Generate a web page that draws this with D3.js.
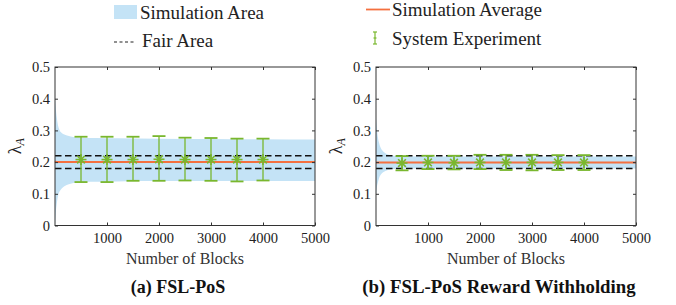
<!DOCTYPE html>
<html><head><meta charset="utf-8">
<script src="https://cdn.jsdelivr.net/npm/d3@7"></script>
<style>body{margin:0;background:#fff}svg{display:block}svg text{font-family:"Liberation Serif","Times New Roman",Tinos,"DejaVu Serif",serif}</style>
</head><body><svg id="c" width="676" height="305"></svg>
<script>
const xTicks = [1000, 2000, 3000, 4000, 5000];
const yTicks = [0, 0.1, 0.2, 0.3, 0.4, 0.5];
const expX = [500, 1000, 1500, 2000, 2500, 3000, 3500, 4000];

// panel (a)
const envX_a = [0, 15, 35, 60, 90, 130, 180, 250, 350, 500, 800, 1200, 2000, 3000, 4000, 5000];
const envHi_a = [0.40, 0.37, 0.34, 0.315, 0.30, 0.292, 0.287, 0.283, 0.279, 0.277, 0.276, 0.275, 0.274, 0.273, 0.272, 0.271];
const envLo_a = [0.0, 0.04, 0.07, 0.095, 0.108, 0.117, 0.124, 0.129, 0.134, 0.137, 0.138, 0.139, 0.140, 0.140, 0.140, 0.140];
const avg_a = [0.203, 0.201, 0.200, 0.200, 0.200, 0.200, 0.200, 0.200, 0.200, 0.200, 0.200, 0.200, 0.200, 0.200, 0.200, 0.200];
const expMean_a = [0.208, 0.208, 0.208, 0.209, 0.208, 0.208, 0.208, 0.208];
const expHi_a = [0.280, 0.280, 0.280, 0.282, 0.277, 0.276, 0.274, 0.274];
const expLo_a = [0.137, 0.137, 0.141, 0.141, 0.142, 0.141, 0.139, 0.142];

// panel (b)
const envX_b = [0, 15, 35, 60, 90, 130, 180, 250, 350, 500, 800, 1200, 2000, 3000, 4000, 5000];
const envHi_b = [0.34, 0.31, 0.28, 0.26, 0.245, 0.235, 0.228, 0.223, 0.220, 0.219, 0.218, 0.218, 0.218, 0.218, 0.218, 0.218];
const envLo_b = [0.10, 0.12, 0.135, 0.15, 0.16, 0.167, 0.172, 0.176, 0.178, 0.179, 0.180, 0.180, 0.180, 0.180, 0.180, 0.180];
const avg_b = [0.199, 0.199, 0.199, 0.199, 0.199, 0.199, 0.199, 0.199, 0.199, 0.199, 0.199, 0.199, 0.199, 0.199, 0.199, 0.199];
const expMean_b = [0.197, 0.199, 0.198, 0.199, 0.199, 0.199, 0.199, 0.199];
const expHi_b = [0.219, 0.220, 0.220, 0.223, 0.223, 0.223, 0.222, 0.222];
const expLo_b = [0.174, 0.178, 0.177, 0.178, 0.175, 0.174, 0.175, 0.175];

const fairHi = 0.22, fairLo = 0.18;

const BLUE = "#c4e3f6", ORANGE = "#f4703f", GREEN = "#79b72e";
const svg = d3.select("#c");

function panel(x0, x1, d, caption, capX, capSize) {
  const x = d3.scaleLinear().domain([0, 5000]).range([x0, x1]);
  const y = d3.scaleLinear().domain([0, 0.5]).range([225.5, 67]);
  const g = svg.append("g");
  const area = d3.area().x((v, i) => x(d.envX[i])).y0((v, i) => y(d.envLo[i])).y1((v, i) => y(d.envHi[i])).curve(d3.curveMonotoneX);
  g.append("path").attr("d", area(d.envX)).attr("fill", BLUE);
  [fairHi, fairLo].forEach(v => g.append("line").attr("x1", x(0)).attr("x2", x(5000)).attr("y1", y(v)).attr("y2", y(v))
    .attr("stroke", "#111").attr("stroke-width", 1.4).attr("stroke-dasharray", "6.5,3.5"));
  const line = d3.line().x((v, i) => x(d.envX[i])).y(v => y(v)).curve(d3.curveMonotoneX);
  g.append("path").attr("d", line(d.avg)).attr("fill", "none").attr("stroke", ORANGE).attr("stroke-width", 2);
  expX.forEach((bx, i) => {
    const cx = x(bx);
    g.append("line").attr("x1", cx).attr("x2", cx).attr("y1", y(d.hi[i])).attr("y2", y(d.lo[i])).attr("stroke", GREEN).attr("stroke-width", 1.3);
    [d.hi[i], d.lo[i]].forEach(v => g.append("line").attr("x1", cx - 6.5).attr("x2", cx + 6.5).attr("y1", y(v)).attr("y2", y(v)).attr("stroke", GREEN).attr("stroke-width", 1.8));
    const cy = y(d.mean[i]);
    const r = 5.5;
    [[r, 0], [0, r], [r * 0.7, r * 0.7], [r * 0.7, -r * 0.7]].forEach(([dx, dy]) =>
      g.append("line").attr("x1", cx - dx).attr("x2", cx + dx).attr("y1", cy - dy).attr("y2", cy + dy).attr("stroke", GREEN).attr("stroke-width", 1.6));
  });
  g.append("rect").attr("x", x0).attr("y", 67).attr("width", x1 - x0).attr("height", 225.5 - 67).attr("fill", "none").attr("stroke", "#333").attr("stroke-width", 1);
  const ax = g.append("g").attr("transform", `translate(0,225.5)`).call(d3.axisBottom(x).tickValues(xTicks).tickSizeInner(-3).tickSizeOuter(0).tickPadding(7).tickFormat(d3.format("d")));
  const axT = g.append("g").attr("transform", `translate(0,67)`).call(d3.axisTop(x).tickValues(xTicks).tickSizeInner(-3).tickSizeOuter(0).tickFormat(""));
  const ay = g.append("g").attr("transform", `translate(${x0},0)`).call(d3.axisLeft(y).tickValues(yTicks).tickSizeInner(-3).tickSizeOuter(0).tickPadding(5).tickFormat(v => v === 0 ? "0" : d3.format(".1f")(v)));
  const ayR = g.append("g").attr("transform", `translate(${x1},0)`).call(d3.axisRight(y).tickValues(yTicks).tickSizeInner(-3).tickSizeOuter(0).tickFormat(""));
  [ax, axT, ay, ayR].forEach(a => { a.attr("font-family", null); a.select(".domain").remove(); a.selectAll("line").attr("stroke", "#333"); a.selectAll("text").attr("font-size", 14.5).attr("fill", "#222"); });
  ax.selectAll("text").attr("dy", "0.71em");
  g.append("text").attr("x", (x0 + x1) / 2).attr("y", 264).attr("text-anchor", "middle").attr("font-size", 16).attr("fill", "#333").text("Number of Blocks");
  const yl = g.append("text").attr("transform", `translate(${x0 - 34},${y(0.25)}) rotate(-90)`).attr("text-anchor", "middle").attr("font-size", 18).attr("fill", "#222");
  yl.append("tspan").text("λ");
  yl.append("tspan").attr("font-style", "italic").attr("font-size", 12).attr("dy", 3).text("A");
  g.append("text").attr("x", capX).attr("y", 293).attr("text-anchor", "middle").attr("font-weight", "bold").attr("font-size", capSize).attr("fill", "#111").text(caption);
}

panel(55, 315, {envX: envX_a, envHi: envHi_a, envLo: envLo_a, avg: avg_a, mean: expMean_a, hi: expHi_a, lo: expLo_a}, "(a) FSL-PoS", 178, 18);
panel(376, 636, {envX: envX_b, envHi: envHi_b, envLo: envLo_b, avg: avg_b, mean: expMean_b, hi: expHi_b, lo: expLo_b}, "(b) FSL-PoS Reward Withholding", 499, 18.8);

const L = svg.append("g").attr("font-size", 19).attr("fill", "#222");
L.append("rect").attr("x", 114).attr("y", 5).attr("width", 23).attr("height", 14).attr("fill", BLUE);
L.append("text").attr("x", 140).attr("y", 18.5).text("Simulation Area");
L.append("line").attr("x1", 114).attr("x2", 134).attr("y1", 42).attr("y2", 42).attr("stroke", "#222").attr("stroke-width", 1.2).attr("stroke-dasharray", "3,2.5");
L.append("text").attr("x", 142).attr("y", 46.5).text("Fair Area");
L.append("line").attr("x1", 366).attr("x2", 390).attr("y1", 9.5).attr("y2", 9.5).attr("stroke", ORANGE).attr("stroke-width", 1.8);
L.append("text").attr("x", 392).attr("y", 16).text("Simulation Average");
L.append("line").attr("x1", 375).attr("x2", 375).attr("y1", 32).attr("y2", 44).attr("stroke", GREEN).attr("stroke-width", 1.2);
[32, 44].forEach(v => L.append("line").attr("x1", 373).attr("x2", 377).attr("y1", v).attr("y2", v).attr("stroke", GREEN).attr("stroke-width", 1.2));
L.append("line").attr("x1", 373.5).attr("x2", 376.5).attr("y1", 38).attr("y2", 38).attr("stroke", GREEN).attr("stroke-width", 1.2);
L.append("text").attr("x", 392).attr("y", 44.5).text("System Experiment");
</script></body></html>
